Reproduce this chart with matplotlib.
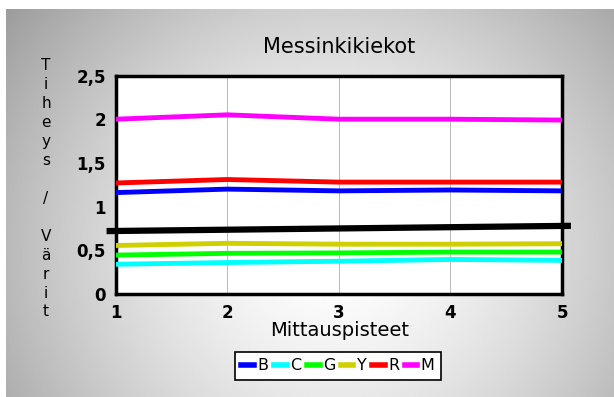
import numpy as np
import matplotlib
matplotlib.use("Agg")
import matplotlib.pyplot as plt
from matplotlib.lines import Line2D

# measurement points
points = [1, 2, 3, 4, 5]

# density per colour channel
series_b = [1.16, 1.20, 1.18, 1.19, 1.18]
series_c = [0.34, 0.36, 0.375, 0.395, 0.385]
series_g = [0.445, 0.465, 0.47, 0.48, 0.48]
series_y = [0.555, 0.58, 0.57, 0.57, 0.575]
series_r = [1.27, 1.31, 1.28, 1.28, 1.28]
series_m = [2.0, 2.05, 2.0, 2.0, 1.99]

names = ["B", "C", "G", "Y", "R", "M"]
colors = ["#0000ff", "#00ffff", "#00ff00", "#d0d000", "#ff0000", "#ff00ff"]

# black reference line drawn across the plot
ref_x = [0.92, 5.08]
ref_y = [0.72, 0.78]

y_ticks = [0, 0.5, 1, 1.5, 2, 2.5]
y_tick_labels = ["0", "0,5", "1", "1,5", "2", "2,5"]

W, H = 614, 397
fig = plt.figure(figsize=(W / 100, H / 100), dpi=100)
fig.patch.set_facecolor("white")

# radial grey background panel
bg = fig.add_axes([6 / W, 0, 1 - 6 / W, 388 / H])
bg.axis("off")
gx, gy = np.meshgrid(np.linspace(6, 614, 300), np.linspace(9, 397, 200))
dist = np.sqrt((gx - 335) ** 2 + ((gy - 250) / 0.95) ** 2)
shade = 1 - 0.38 * np.clip(dist / 410, 0, 1.2) ** 1.5
bg.imshow(shade, cmap="gray", vmin=0, vmax=1, aspect="auto",
          extent=[0, 1, 0, 1], interpolation="bilinear")
bg.set_xlim(0, 1)
bg.set_ylim(0, 1)

ax = fig.add_axes([115.5 / W, 1 - 294 / H, (562 - 115.5) / W, (294 - 75.5) / H])
ax.set_facecolor("white")

all_series = [series_b, series_c, series_g, series_y, series_r, series_m]
for vals, name, col in zip(all_series, names, colors):
    ax.plot(points, vals, color=col, linewidth=3.5, label=name,
            solid_capstyle="butt", zorder=3)

ax.plot(ref_x, ref_y, color="black", linewidth=4.5, clip_on=False,
        solid_capstyle="butt", zorder=4)

ax.set_xlim(1, 5)
ax.set_ylim(0, 2.5)
ax.set_xticks(points)
ax.set_xticklabels([str(p) for p in points], fontsize=12, fontweight="bold")
ax.set_yticks(y_ticks)
ax.set_yticklabels(y_tick_labels, fontsize=12, fontweight="bold")
ax.tick_params(axis="x", length=0, pad=7.5)
ax.tick_params(axis="y", length=0, pad=7)
ax.grid(axis="x", color="#b0b0b0", linewidth=0.6)
ax.grid(axis="y", visible=False)
for sp in ax.spines.values():
    sp.set_linewidth(2.5)
    sp.set_color("black")

fig.text(339 / W, 1 - 47 / H, "Messinkikiekot", fontsize=15,
         ha="center", va="center")
fig.text(340 / W, 1 - 331 / H, "Mittauspisteet", fontsize=14,
         ha="center", va="center")
fig.text(46 / W, 1 - 58 / H, "T\ni\nh\ne\ny\ns\n\n/\n\nV\nä\nr\ni\nt",
         fontsize=11, ha="center", va="top", linespacing=1.33,
         multialignment="center")

handles = [Line2D([0], [0], color=c, linewidth=4) for c in colors]
leg = fig.legend(handles, names, loc="center", ncol=6,
                 bbox_to_anchor=(338 / W, 1 - 366 / H), fontsize=11.5,
                 frameon=True, fancybox=False, edgecolor="black",
                 handlelength=0.8, handletextpad=0.2, columnspacing=0.35,
                 borderpad=0.4)
leg.get_frame().set_linewidth(1.2)
leg.get_frame().set_facecolor("white")
leg.get_frame().set_alpha(1)

fig.savefig("out.png", dpi=100)
